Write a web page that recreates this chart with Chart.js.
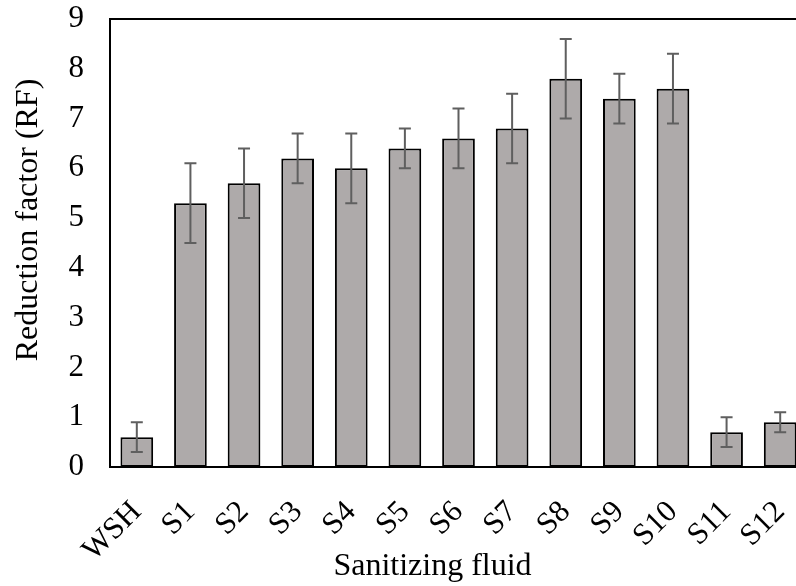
<!DOCTYPE html>
<html>
<head>
<meta charset="utf-8">
<script src="https://cdn.jsdelivr.net/npm/chart.js@4"></script>
<style>
  html, body { margin: 0; padding: 0; background: #fff; overflow: hidden; }
  #wrap { width: 807px; height: 586px; }
</style>
</head>
<body>
<div id="wrap"><canvas id="rfChart"></canvas></div>
<script>
// Data
const fluids = ['WSH', 'S1', 'S2', 'S3', 'S4', 'S5', 'S6', 'S7', 'S8', 'S9', 'S10', 'S11', 'S12'];
const rfMean = [0.6, 5.3, 5.7, 6.2, 6.0, 6.4, 6.6, 6.8, 7.8, 7.4, 7.6, 0.7, 0.9];
const rfLow  = [0.3, 4.5, 5.0, 5.7, 5.3, 6.0, 6.0, 6.1, 7.0, 6.9, 6.9, 0.4, 0.7];
const rfHigh = [0.9, 6.1, 6.4, 6.7, 6.7, 6.8, 7.2, 7.5, 8.6, 7.9, 8.3, 1.0, 1.1];
const yTicks = [0, 1, 2, 3, 4, 5, 6, 7, 8, 9];
const xTitle = 'Sanitizing fluid';
const yTitle = 'Reduction factor (RF)';

const serif = "'Liberation Serif', 'Times New Roman', serif";

// frame round the plot area (left, top, bottom axis)
const framePlugin = {
  id: 'frame',
  afterDatasetsDraw(chart) {
    const a = chart.chartArea;
    const ctx = chart.ctx;
    ctx.save();
    ctx.strokeStyle = '#000';
    ctx.lineWidth = 2;
    ctx.strokeRect(a.left, a.top, a.right - a.left, a.bottom - a.top);
    ctx.restore();
  }
};

// error bars from rfLow / rfHigh
const errorBarPlugin = {
  id: 'errorBars',
  afterDatasetsDraw(chart) {
    const ctx = chart.ctx;
    const meta = chart.getDatasetMeta(0);
    const y = chart.scales.y;
    const cap = 6;
    ctx.save();
    ctx.strokeStyle = '#5f5f5f';
    ctx.lineWidth = 2;
    meta.data.forEach((bar, i) => {
      const yt = y.getPixelForValue(rfHigh[i]);
      const yb = y.getPixelForValue(rfLow[i]);
      ctx.beginPath();
      ctx.moveTo(bar.x, yt); ctx.lineTo(bar.x, yb);
      ctx.moveTo(bar.x - cap, yt); ctx.lineTo(bar.x + cap, yt);
      ctx.moveTo(bar.x - cap, yb); ctx.lineTo(bar.x + cap, yb);
      ctx.stroke();
    });
    ctx.restore();
  }
};

// axis titles, placed like the original (not centred on the plot area)
const axisTitlePlugin = {
  id: 'axisTitles',
  afterDraw(chart) {
    const ctx = chart.ctx;
    ctx.save();
    ctx.fillStyle = '#000';
    ctx.font = '32px ' + serif;
    ctx.textAlign = 'center';
    ctx.textBaseline = 'alphabetic';
    ctx.fillText(xTitle, 432.5, 575);
    ctx.translate(37, 220);
    ctx.rotate(-Math.PI / 2);
    ctx.fillText(yTitle, 0, 0);
    ctx.restore();
  }
};

new Chart(document.getElementById('rfChart'), {
  type: 'bar',
  data: {
    labels: fluids,
    datasets: [{
      data: rfMean,
      backgroundColor: '#aeaaaa',
      borderColor: '#000',
      borderWidth: 2,
      borderSkipped: false,
      barPercentage: 1,
      categoryPercentage: 0.61
    }]
  },
  options: {
    responsive: true,
    maintainAspectRatio: false,
    animation: false,
    layout: { padding: { left: 0, top: 19, right: 0, bottom: 0 } },
    plugins: {
      legend: { display: false },
      tooltip: { enabled: false }
    },
    scales: {
      x: {
        grid: { display: false, drawTicks: false },
        border: { display: false },
        ticks: {
          color: '#000',
          font: { family: serif, size: 31 },
          autoSkip: false,
          minRotation: 45,
          maxRotation: 45,
          padding: 27
        },
        afterFit(scale) {
          scale.height = 119;
          scale.paddingLeft = 0;
          scale.paddingRight = 0;
        }
      },
      y: {
        min: 0,
        max: 9,
        grid: { display: false, drawTicks: false },
        border: { display: false },
        afterBuildTicks(scale) { scale.ticks = yTicks.map(v => ({ value: v })); },
        ticks: {
          color: '#000',
          font: { family: serif, size: 31 },
          padding: 26
        },
        afterFit(scale) {
          scale.width = 110;
          scale.paddingTop = 0;
          scale.paddingBottom = 0;
        }
      }
    }
  },
  plugins: [framePlugin, errorBarPlugin, axisTitlePlugin]
});
</script>
</body>
</html>
